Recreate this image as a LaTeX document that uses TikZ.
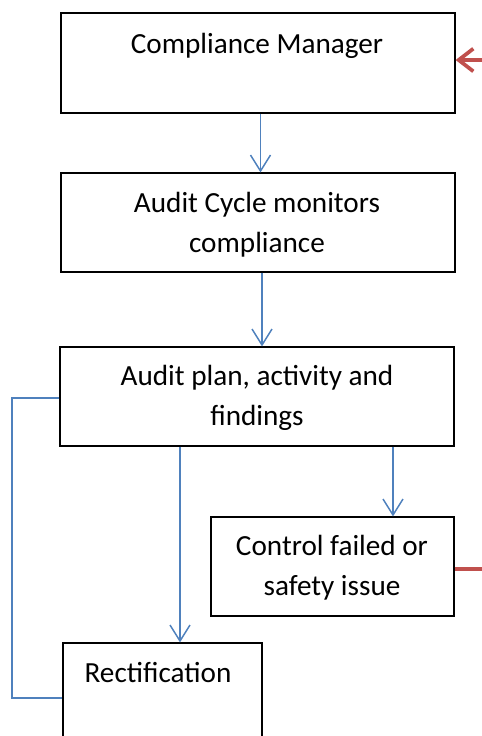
\documentclass[tikz,border=0pt]{standalone}
\usepackage{fontspec}
\setmainfont{Carlito}
\usetikzlibrary{arrows.meta}
\definecolor{flowblue}{HTML}{4F81BD}
\definecolor{flowred}{HTML}{C0504D}
\tikzset{
  box/.style={draw=black, line width=0.9pt, rectangle, inner sep=0pt},
  lbl/.style={anchor=base, inner sep=0pt, font=\fontsize{21.9}{30}\selectfont},
  flow/.style={draw=flowblue, line width=1.1pt},
  flowarrow/.style={flow, -{Straight Barb[length=12pt,width=15pt,line width=1.1pt]}},
  redarrow/.style={draw=flowred, line width=2.6pt, -{Straight Barb[length=11pt,width=17pt,line width=2.8pt]}},
  redline/.style={draw=flowred, line width=3pt}
}
\begin{document}
\begin{tikzpicture}[x=0.75pt, y=-0.75pt]
\useasboundingbox (0,0) rectangle (482,736);
\clip (0,0) rectangle (482,736);
% boxes
\node[box, minimum width=394*0.75pt, minimum height=100*0.75pt] (cm) at (258,63) {};
\node[box, minimum width=394*0.75pt, minimum height=99*0.75pt] (ac) at (258,222.5) {};
\node[box, minimum width=394*0.75pt, minimum height=99*0.75pt] (ap) at (257,396.5) {};
\node[box, minimum width=243*0.75pt, minimum height=99*0.75pt] (cf) at (332.5,566.5) {};
\node[box, minimum width=199*0.75pt, minimum height=110*0.75pt] (re) at (162.5,698) {};
% labels
\node[lbl] (tcm) at (257,53) {Compliance Manager};
\node[lbl] (tac1) at (257,212) {Audit Cycle monitors};
\node[lbl] (tac2) at (257,252) {compliance};
\node[lbl] (tap1) at (257,385) {Audit plan, activity and};
\node[lbl] (tap2) at (257,425) {findings};
\node[lbl] (tcf1) at (332,555) {Control failed or};
\node[lbl] (tcf2) at (332,595) {safety issue};
\node[lbl] (tre) at (158,682) {Rectification};
% connectors
\coordinate (a1s) at (cm.south -| 260.5,0);
\coordinate (a1e) at (ac.north -| 260.5,0);
\draw[flowarrow] (a1s) -- (a1e);
\coordinate (a2s) at (ac.south -| 262,0);
\coordinate (a2e) at (ap.north -| 262,0);
\draw[flowarrow] (a2s) -- (a2e);
\coordinate (a3s) at (ap.south -| 393,0);
\coordinate (a3e) at (cf.north -| 393,0);
\draw[flowarrow] (a3s) -- (a3e);
\coordinate (a4s) at (ap.south -| 180,0);
\coordinate (a4e) at (re.north -| 180,0);
\draw[flowarrow] (a4s) -- (a4e);
% feedback line
\coordinate (fbs) at (ap.west |- 0,398);
\coordinate (fbe) at (re.west |- 0,698);
\draw[flow] (fbs) -- (12,398) -- (12,698) -- (fbe);
% red connectors
\coordinate (rin) at (482,60);
\coordinate (rcm) at (cm.east |- 0,60);
\draw[redarrow] (rin) -- (rcm);
\coordinate (rcf) at (cf.east |- 0,569);
\coordinate (rout) at (482,569);
\draw[redline] (rcf) -- (rout);
\end{tikzpicture}
\end{document}
